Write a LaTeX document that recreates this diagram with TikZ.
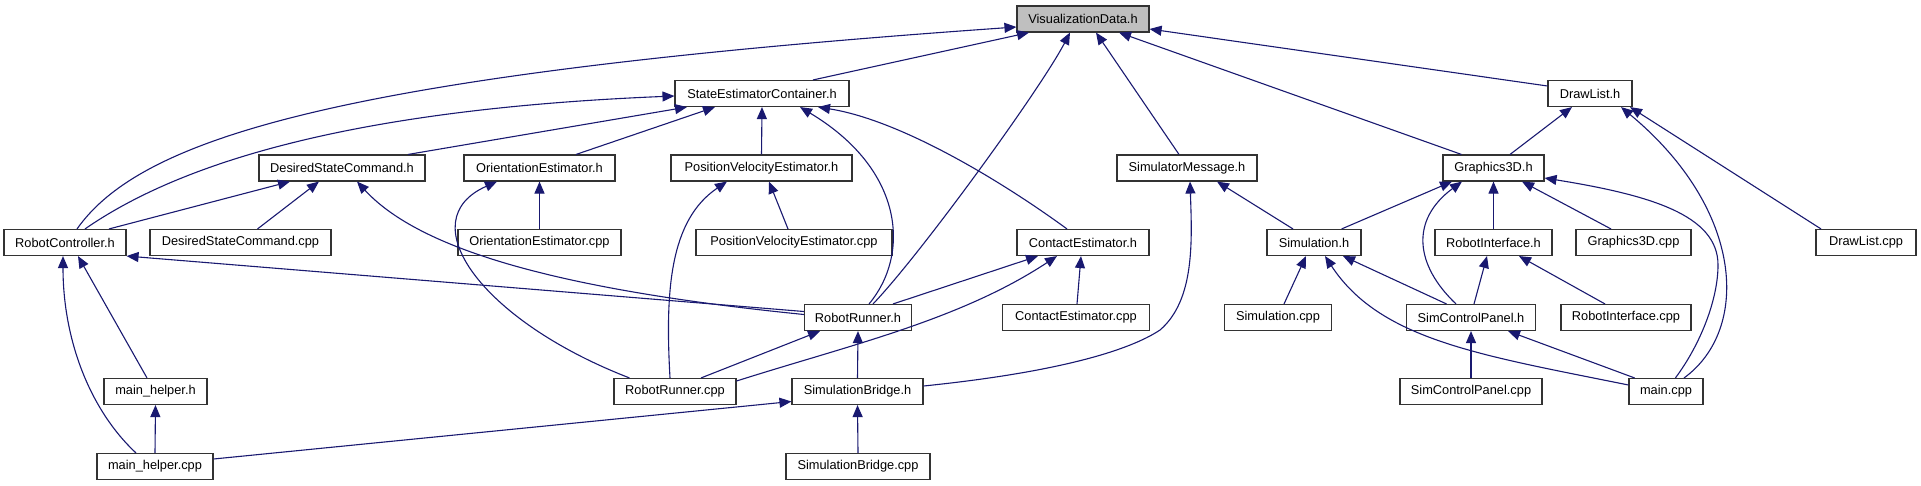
\documentclass[tikz,border=0pt]{standalone}
\usepackage{fontspec}
\setmainfont{Liberation Sans}
\usetikzlibrary{arrows.meta,calc}
\definecolor{navy}{HTML}{191970}
\definecolor{boxgray}{HTML}{BFBFBF}
\tikzset{
  box/.style={draw=black!80, line width=1.1pt, minimum height=26pt, inner sep=0pt, font=\fontsize{12.8}{15}\selectfont},
  edge/.style={draw=navy, line width=1.1pt, -{Triangle[length=12pt,width=10pt]}}
}
\begin{document}
\begin{tikzpicture}[x=1pt,y=-1pt]
\useasboundingbox (0,0) rectangle (1921,485);
% row 1
\node[box, fill=boxgray, minimum width=132pt] (VD) at (1083,19) {VisualizationData.h};
% row 2
\node[box, minimum width=174pt] (SEC) at (762,93.5) {StateEstimatorContainer.h};
\node[box, minimum width=84pt] (DL) at (1590,93.5) {DrawList.h};
% row 3
\node[box, minimum width=166pt] (DSC) at (342,168) {DesiredStateCommand.h};
\node[box, minimum width=151pt] (OE) at (539.5,168) {OrientationEstimator.h};
\node[box, minimum width=181pt] (PVE) at (761.5,168) {PositionVelocityEstimator.h};
\node[box, minimum width=140pt] (SM) at (1187,168) {SimulatorMessage.h};
\node[box, minimum width=101pt] (G3D) at (1493.5,168) {Graphics3D.h};
% row 4
\node[box, minimum width=122pt] (RC) at (65,242.5) {RobotController.h};
\node[box, minimum width=181pt] (DSCcpp) at (240.5,242.5) {DesiredStateCommand.cpp};
\node[box, minimum width=163pt] (OEcpp) at (539.5,242.5) {OrientationEstimator.cpp};
\node[box, minimum width=196pt] (PVEcpp) at (794,242.5) {PositionVelocityEstimator.cpp};
\node[box, minimum width=132pt] (CE) at (1083,242.5) {ContactEstimator.h};
\node[box, minimum width=94pt] (Sim) at (1314,242.5) {Simulation.h};
\node[box, minimum width=117pt] (RI) at (1493.5,242.5) {RobotInterface.h};
\node[box, minimum width=115pt] (G3Dcpp) at (1633.5,242.5) {Graphics3D.cpp};
\node[box, minimum width=100pt] (DLcpp) at (1866,242.5) {DrawList.cpp};
% row 5
\node[box, minimum width=107pt] (RR) at (858,317.5) {RobotRunner.h};
\node[box, minimum width=147pt] (CEcpp) at (1076,317.5) {ContactEstimator.cpp};
\node[box, minimum width=107pt] (Simcpp) at (1278,317.5) {Simulation.cpp};
\node[box, minimum width=129pt] (SCP) at (1471,317.5) {SimControlPanel.h};
\node[box, minimum width=130pt] (RIcpp) at (1626,317.5) {RobotInterface.cpp};
% row 6
\node[box, minimum width=103pt] (mhh) at (155.5,391.5) {main\_helper.h};
\node[box, minimum width=122pt] (RRcpp) at (675,391.5) {RobotRunner.cpp};
\node[box, minimum width=131pt] (SB) at (857.5,391.5) {SimulationBridge.h};
\node[box, minimum width=142pt] (SCPcpp) at (1471,391.5) {SimControlPanel.cpp};
\node[box, minimum width=74pt] (mainc) at (1666,391.5) {main.cpp};
% row 7
\node[box, minimum width=116pt] (mhcpp) at (155,466.5) {main\_helper.cpp};
\node[box, minimum width=144pt] (SBcpp) at (858,466.5) {SimulationBridge.cpp};

% edges to VisualizationData.h
\draw[edge] ($(RC.north)+(12,0)$) .. controls (140,140) and (330,75) .. ($(VD.west)+(0,8)$);
\draw[edge] ($(SEC.north)+(51,0)$) -- ($(VD.south)+(-54,0)$);
\draw[edge] ($(RR.north)+(15,0)$) .. controls (920,255) and (1040,90) .. ($(VD.south)+(-13,0)$);
\draw[edge] ($(SM.north)+(-8,0)$) -- ($(VD.south)+(13,0)$);
\draw[edge] ($(G3D.north)+(-32,0)$) -- ($(VD.south)+(36,0)$);
\draw[edge] ($(DL.west)+(0,-7.5)$) -- ($(VD.east)+(0,10)$);
% edges to StateEstimatorContainer.h
\draw[edge] ($(RC.north)+(20,0)$) .. controls (170,170) and (330,110) .. ($(SEC.west)+(0,2.5)$);
\draw[edge] ($(DSC.north)+(66,0)$) -- ($(SEC.south)+(-75,0)$);
\draw[edge] ($(OE.north)+(36.5,0)$) -- ($(SEC.south)+(-47,0)$);
\draw[edge] (PVE.north) -- (SEC.south);
\draw[edge] ($(RR.north)+(11,0)$) .. controls (910,255) and (905,170) .. ($(SEC.south)+(38,0)$);
\draw[edge] ($(CE.north)+(-16,0)$) .. controls (1000,180) and (900,120) .. ($(SEC.south)+(56,0)$);
% edges to DesiredStateCommand.h
\draw[edge] ($(RC.north)+(44,0)$) -- ($(DSC.south)+(-52,0)$);
\draw[edge] ($(DSCcpp.north)+(17,0)$) -- ($(DSC.south)+(-23,0)$);
\draw[edge] ($(RR.west)+(0,-3)$) .. controls (560,290) and (420,250) .. ($(DSC.south)+(15,0)$);
% edges to OrientationEstimator.h
\draw[edge] ($(RRcpp.north)+(-45.5,0)$) .. controls (480,320) and (410,220) .. ($(OE.south)+(-42.5,0)$);
\draw[edge] (OEcpp.north) -- (OE.south);
% edges to PositionVelocityEstimator.h
\draw[edge] ($(RRcpp.north)+(-5,0)$) .. controls (665,290) and (670,220) .. ($(PVE.south)+(-34.5,0)$);
\draw[edge] ($(PVEcpp.north)+(-6,0)$) -- ($(PVE.south)+(7.5,0)$);
% edges to ContactEstimator.h
\draw[edge] ($(RR.north)+(35,0)$) -- ($(CE.south)+(-45,0)$);
\draw[edge] ($(RRcpp.east)+(0,-10.5)$) .. controls (850,345) and (960,320) .. ($(CE.south)+(-26,0)$);
\draw[edge] ($(CEcpp.north)+(1,0)$) -- ($(CE.south)+(-2,0)$);
% edges to RobotController.h
\draw[edge] ($(RR.west)+(0,-6)$) -- (RC.south east);
\draw[edge] ($(mhh.north)+(-8.5,0)$) -- ($(RC.south)+(13,0)$);
\draw[edge] ($(mhcpp.north)+(-19,0)$) .. controls (90,410) and (63,340) .. ($(RC.south)+(-2,0)$);
% main_helper.h
\draw[edge] (mhcpp.north) -- (mhh.south);
% RobotRunner.h
\draw[edge] ($(RRcpp.north)+(26,0)$) -- ($(RR.south)+(-38,0)$);
\draw[edge] (SB.north) -- (RR.south);
% SimulationBridge.h
\draw[edge] ($(mhcpp.east)+(0,-7.5)$) -- ($(SB.west)+(0,10)$);
\draw[edge] (SBcpp.north) -- (SB.south);
% SimulatorMessage.h
\draw[edge] ($(SB.east)+(0,-5.5)$) .. controls (1060,372) and (1130,350) .. (1160,330) .. controls (1195,300) and (1192,240) .. ($(SM.south)+(3,0)$);
\draw[edge] ($(Sim.north)+(-21,0)$) -- ($(SM.south)+(30,0)$);
% Graphics3D.h
\draw[edge] ($(Sim.north)+(27.6,0)$) -- ($(G3D.south)+(-41.5,0)$);
\draw[edge] ($(SCP.north)+(-15,0)$) .. controls (1415,265) and (1410,220) .. ($(G3D.south)+(-31.5,0)$);
\draw[edge] (RI.north) -- (G3D.south);
\draw[edge] ($(G3Dcpp.north)+(-22.5,0)$) -- ($(G3D.south)+(28.5,0)$);
\draw[edge] ($(mainc.north)+(9.4,0)$) .. controls (1700,345) and (1718,300) .. (1718,265) .. controls (1718,215) and (1650,195) .. ($(G3D.east)+(0,10)$);
% DrawList.h
\draw[edge] ($(G3D.north)+(16.5,0)$) -- ($(DL.south)+(-18,0)$);
\draw[edge] ($(mainc.north)+(18,0)$) .. controls (1750,330) and (1745,210) .. ($(DL.south)+(31,0)$);
\draw[edge] ($(DLcpp.north)+(-45,0)$) -- ($(DL.south)+(40,0)$);
% Simulation.h
\draw[edge] ($(Simcpp.north)+(6,0)$) -- ($(Sim.south)+(-8,0)$);
\draw[edge] ($(SCP.north)+(-24.5,0)$) -- ($(Sim.south)+(29,0)$);
\draw[edge] ($(mainc.west)+(0,-6.5)$) .. controls (1480,355) and (1380,340) .. ($(Sim.south)+(11,0)$);
% RobotInterface.h
\draw[edge] ($(SCP.north)+(3,0)$) -- ($(RI.south)+(-6.5,0)$);
\draw[edge] ($(RIcpp.north)+(-21,0)$) -- ($(RI.south)+(25.5,0)$);
% SimControlPanel.h
\draw[edge] (SCPcpp.north) -- (SCP.south);
\draw[edge] ($(mainc.north)+(-31.4,0)$) -- ($(SCP.south)+(37,0)$);
\end{tikzpicture}
\end{document}
